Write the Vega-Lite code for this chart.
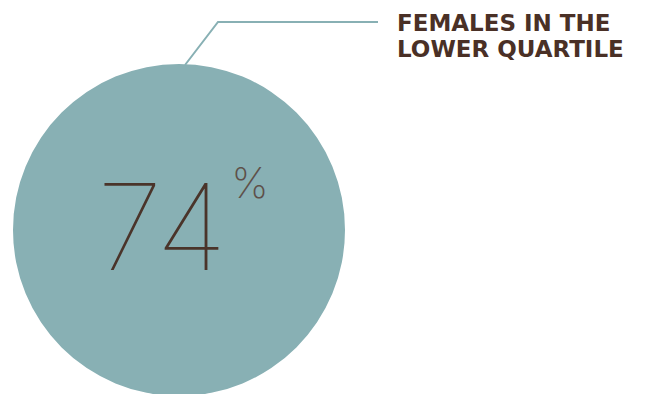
{
  "$schema": "https://vega.github.io/schema/vega-lite/v6.json",
  "width": 667,
  "height": 394,
  "autosize": "none",
  "padding": 0,
  "background": "white",
  "view": {"stroke": null},
  "datasets": {
    "circle": [{"x": 179, "y": 230, "value": 74}],
    "leader": [{"x": 185, "y": 65, "o": 1}, {"x": 218, "y": 22, "o": 2}, {"x": 378, "y": 22, "o": 3}],
    "big": [{"x": 162, "y": 270, "t": "74"}],
    "pct": [{"x": 250, "y": 198, "t": "%"}],
    "label": [{"x": 397, "y": 31, "t": "FEMALES IN THE"}, {"x": 397, "y": 57, "t": "LOWER QUARTILE"}]
  },
  "layer": [
    {
      "data": {"name": "circle"},
      "mark": {"type": "point", "shape": "circle", "filled": true, "size": 110224, "color": "#88b0b4", "opacity": 1},
      "encoding": {
        "x": {"field": "x", "type": "quantitative", "scale": {"domain": [0, 667], "nice": false, "zero": false}, "axis": null},
        "y": {"field": "y", "type": "quantitative", "scale": {"domain": [0, 394], "reverse": true, "nice": false, "zero": false}, "axis": null}
      }
    },
    {
      "data": {"name": "leader"},
      "mark": {"type": "line", "color": "#88b0b4", "strokeWidth": 2},
      "encoding": {
        "x": {"field": "x", "type": "quantitative"},
        "y": {"field": "y", "type": "quantitative"},
        "order": {"field": "o"}
      }
    },
    {
      "data": {"name": "big"},
      "mark": {"type": "text", "font": "Inter", "fontWeight": 100, "fontSize": 120, "color": "#4a342a", "align": "center", "baseline": "alphabetic"},
      "encoding": {
        "x": {"field": "x", "type": "quantitative"},
        "y": {"field": "y", "type": "quantitative"},
        "text": {"field": "t"}
      }
    },
    {
      "data": {"name": "pct"},
      "mark": {"type": "text", "font": "Inter", "fontWeight": 200, "fontSize": 42, "color": "#5e504a", "align": "center", "baseline": "alphabetic"},
      "encoding": {
        "x": {"field": "x", "type": "quantitative"},
        "y": {"field": "y", "type": "quantitative"},
        "text": {"field": "t"}
      }
    },
    {
      "data": {"name": "label"},
      "mark": {"type": "text", "font": "DejaVu Sans", "fontWeight": "bold", "fontSize": 23, "color": "#4a3026", "align": "left", "baseline": "alphabetic"},
      "encoding": {
        "x": {"field": "x", "type": "quantitative"},
        "y": {"field": "y", "type": "quantitative"},
        "text": {"field": "t"}
      }
    }
  ]
}
